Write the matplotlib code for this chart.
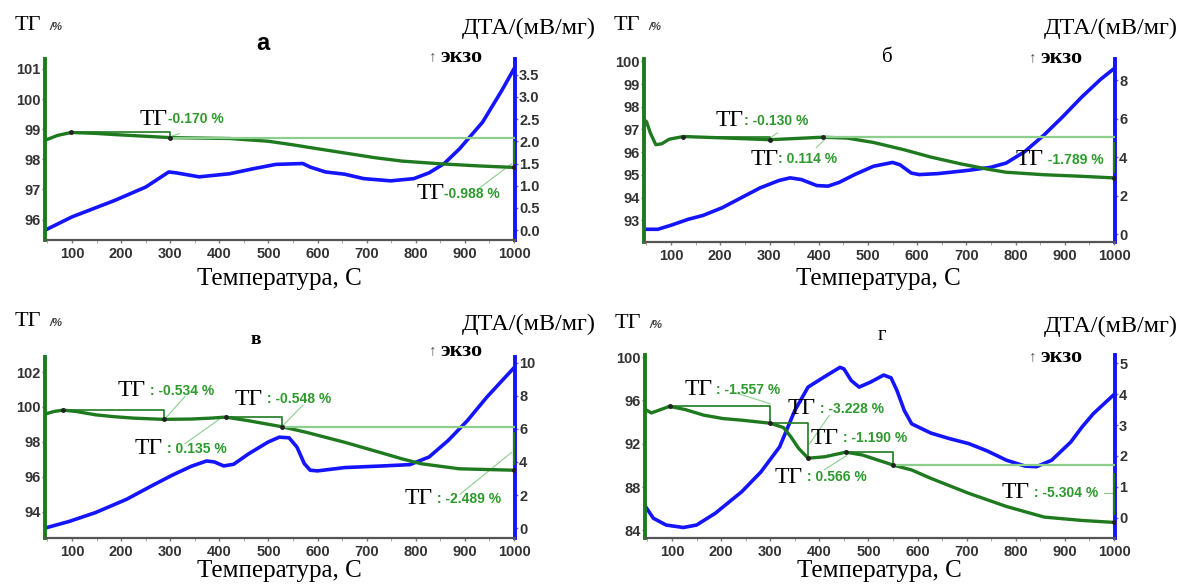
import numpy as np
import matplotlib
matplotlib.use('Agg')
from matplotlib import pyplot as plt

SERIF = ['Liberation Serif', 'DejaVu Serif']
SANS = ['Liberation Sans', 'DejaVu Sans']
TG_COLOR = '#1f7a1f'
DTA_COLOR = '#1414ff'
NOTE_COLOR = '#2e9a2e'
REF_COLOR = '#8ccf8c'

# ---------------- panel а ----------------
a_tg_t = [45, 70, 98, 148, 187, 300, 421, 499, 546, 600, 655, 718, 772, 850, 928, 1000]
a_tg = [98.63, 98.79, 98.89, 98.86, 98.82, 98.72, 98.69, 98.60, 98.49, 98.35, 98.21, 98.05, 97.94, 97.85, 97.78, 97.73]
a_dta_t = [45, 100, 187, 250, 297, 312, 359, 421, 468, 515, 570, 585, 616, 655, 694, 749, 796, 827, 858, 889, 936, 975, 1000]
a_dta = [0.0, 0.30, 0.67, 0.97, 1.31, 1.29, 1.20, 1.27, 1.38, 1.48, 1.50, 1.42, 1.31, 1.26, 1.16, 1.11, 1.16, 1.29, 1.50, 1.83, 2.43, 3.14, 3.63]
a_steps_t = [98, 300, 1000]
a_steps = [98.89, 98.72, 97.73]
a_notes = ['-0.170 %', '-0.988 %']

# ---------------- panel б ----------------
b_tg_t = [45, 50, 58, 69, 81, 96, 125, 204, 300, 350, 408, 458, 511, 573, 627, 688, 742, 780, 857, 934, 1000]
b_tg = [97.42, 97.35, 96.84, 96.33, 96.37, 96.57, 96.69, 96.63, 96.55, 96.60, 96.66, 96.62, 96.43, 96.11, 95.79, 95.49, 95.26, 95.12, 95.01, 94.94, 94.87]
b_dta_t = [45, 73, 100, 135, 165, 204, 242, 281, 319, 342, 365, 396, 419, 442, 473, 511, 550, 565, 588, 604, 642, 704, 750, 781, 819, 858, 896, 935, 973, 1000]
b_dta = [0.26, 0.26, 0.47, 0.78, 0.98, 1.38, 1.89, 2.41, 2.79, 2.93, 2.84, 2.53, 2.50, 2.70, 3.10, 3.53, 3.73, 3.61, 3.18, 3.10, 3.15, 3.32, 3.48, 3.70, 4.30, 5.16, 6.11, 7.14, 8.05, 8.60]
b_steps_t = [125, 300, 408, 1000]
b_steps = [96.69, 96.55, 96.66, 94.87]
b_notes = [': -0.130 %', ': 0.114 %', ' -1.789 %']

# ---------------- panel в ----------------
c_tg_t = [45, 63, 82, 109, 148, 187, 226, 287, 343, 382, 413, 460, 527, 577, 655, 733, 772, 811, 889, 1000]
c_tg = [99.59, 99.74, 99.82, 99.74, 99.55, 99.44, 99.36, 99.29, 99.31, 99.36, 99.42, 99.21, 98.87, 98.55, 97.98, 97.35, 97.03, 96.75, 96.46, 96.38]
c_dta_t = [45, 94, 148, 211, 265, 304, 343, 374, 390, 409, 429, 460, 499, 522, 542, 558, 573, 585, 600, 655, 733, 788, 827, 866, 905, 944, 975, 1000]
c_dta = [0.0, 0.4, 0.94, 1.74, 2.6, 3.2, 3.74, 4.06, 4.0, 3.76, 3.86, 4.5, 5.2, 5.5, 5.46, 4.9, 3.9, 3.5, 3.46, 3.66, 3.76, 3.84, 4.3, 5.3, 6.5, 7.9, 8.9, 9.7]
c_steps_t = [82, 287, 413, 527, 1000]
c_steps = [99.82, 99.29, 99.42, 98.87, 96.38]
c_notes = [' : -0.534 %', ' : 0.135 %', ' : -0.548 %', ' : -2.489 %']

# ---------------- panel г ----------------
d_tg_t = [46, 58, 69, 95, 127, 165, 204, 242, 300, 327, 342, 358, 377, 411, 454, 488, 550, 588, 627, 704, 781, 858, 935, 1000]
d_tg = [95.16, 94.85, 95.03, 95.46, 95.16, 94.64, 94.33, 94.18, 93.90, 93.5, 92.64, 91.57, 90.67, 90.8, 91.23, 90.96, 90.04, 89.58, 88.81, 87.43, 86.21, 85.23, 84.92, 84.74]
d_dta_t = [46, 62, 88, 123, 150, 188, 242, 281, 319, 350, 377, 411, 442, 450, 465, 481, 504, 531, 546, 558, 573, 588, 627, 665, 704, 742, 781, 819, 842, 873, 912, 935, 958, 1000]
d_dta = [0.36, -0.02, -0.24, -0.32, -0.24, 0.14, 0.84, 1.48, 2.29, 3.47, 4.23, 4.57, 4.87, 4.82, 4.44, 4.23, 4.39, 4.62, 4.53, 4.12, 3.47, 3.04, 2.74, 2.56, 2.4, 2.16, 1.86, 1.67, 1.65, 1.86, 2.45, 2.94, 3.37, 3.99]
d_steps_t = [95, 300, 377, 454, 550, 1000]
d_steps = [95.46, 93.90, 90.67, 91.23, 90.04, 84.74]
d_notes = [' : -1.557 %', ' : -3.228 %', ' : 0.566 %', ' : -1.190 %', ' : -5.304 %']

W, H = 1182, 584
fig = plt.figure(figsize=(W / 100, H / 100), dpi=100)


def px_axes(x0, y0, x1, y1):
    return fig.add_axes([x0 / W, 1 - y1 / H, (x1 - x0) / W, (y1 - y0) / H])


def make_panel(box, tg_t, tg, dta_t, dta, ylim, yticks, y2lim, y2ticks, y2fmt):
    ax = px_axes(*box)
    ax2 = ax.twinx()
    ax2.plot(dta_t, dta, color=DTA_COLOR, lw=2.6, solid_joinstyle='round', zorder=2)
    ax.plot(tg_t, tg, color=TG_COLOR, lw=2.4, solid_joinstyle='round', zorder=3)
    ax.set_zorder(ax2.get_zorder() + 1)
    ax.patch.set_visible(False)

    ax.set_xlim(45, 1002)
    ax.set_ylim(*ylim)
    ax2.set_ylim(*y2lim)
    ax.set_xticks(range(100, 1001, 100))
    ax.set_xticks(range(50, 1001, 50), minor=True)
    ax.set_yticks(yticks)
    ax2.set_yticks(y2ticks)
    ax2.set_yticklabels([y2fmt.format(v) for v in y2ticks])

    for a in (ax, ax2):
        a.spines['top'].set_visible(False)
        a.tick_params(labelsize=10.5, labelcolor='#333333', colors='#777777', length=2, width=1)
        for lab in a.get_xticklabels() + a.get_yticklabels():
            lab.set_fontweight('bold')
            lab.set_family(SANS)
    ax.tick_params(axis='x', which='minor', length=2, color='#999999')
    ax.tick_params(axis='x', pad=3)
    ax.tick_params(axis='y', pad=1)
    ax2.tick_params(axis='y', pad=1)
    ax.spines['left'].set_color(TG_COLOR)
    ax.spines['left'].set_linewidth(2.8)
    ax.spines['right'].set_visible(False)
    ax.spines['bottom'].set_color('#555555')
    ax.spines['bottom'].set_linewidth(1.6)
    ax2.spines['left'].set_visible(False)
    ax2.spines['bottom'].set_visible(False)
    ax2.spines['right'].set_color(DTA_COLOR)
    ax2.spines['right'].set_linewidth(2.8)
    return ax, ax2


def draw_steps(ax, st, sv):
    # steps between the marked points, the last one is a reference line + vertical drop
    n = len(st)
    for i in range(n - 2):
        if sv[i + 1] < sv[i]:
            ax.plot([st[i], st[i + 1], st[i + 1]], [sv[i], sv[i], sv[i + 1]], color=TG_COLOR, lw=1.2, zorder=4)
    ax.plot([st[-2], st[-1]], [sv[-2], sv[-2]], color=REF_COLOR, lw=1.6, zorder=4)
    span = sv[-2] - sv[-1]
    ax.plot([st[-1], st[-1]], [sv[-2] - 0.15 * span, sv[-1] + 0.15 * span], color=TG_COLOR, lw=1.6, zorder=4)
    ax.plot(st, sv, 'o', color='#222222', ms=2.5, zorder=5)


def note(ax, x, y, txt):
    ax.text(x, y, 'ТГ', family=SERIF, fontsize=17, color='black', ha='right', va='center', zorder=6)
    ax.text(x, y, txt, family=SANS, fontsize=10, fontweight='bold', color=NOTE_COLOR, ha='left', va='center', zorder=6)


def headers(x0, y0, x1, dta_right, ekzo_y, temp_y, letter, letter_kw):
    fig.text((x0 - 30) / W, 1 - y0 / H, 'ТГ', family=SERIF, fontsize=16, ha='left', va='center')
    fig.text((x0 + 4) / W, 1 - (y0 + 1) / H, '/%', family=SANS, fontsize=8, style='italic',
             fontweight='bold', color='#444444', ha='left', va='center')
    fig.text(dta_right / W, 1 - (y0 + 2) / H, 'ДТА/(мВ/мг)', family=SERIF, fontsize=17.5, ha='right', va='center')
    fig.text((x1 - 86) / W, 1 - ekzo_y / H, '↑', family=SERIF, fontsize=11, color='#555555', ha='left', va='center')
    fig.text((x1 - 75) / W, 1 - ekzo_y / H, 'экзо', family=SERIF, fontsize=16, fontweight='bold',
             ha='left', va='center')
    fig.text(((x0 + x1) / 2 - 1) / W, 1 - temp_y / H, 'Температура, С', family=SERIF, fontsize=18,
             ha='center', va='center')
    fig.text(letter_kw.pop('x') / W, 1 - letter_kw.pop('y') / H, letter, ha='center', va='center', **letter_kw)


# ---- а ----
ax, ax2 = make_panel((45, 59, 515, 240), a_tg_t, a_tg, a_dta_t, a_dta, (95.32, 101.33), range(96, 102),
                     (-0.22, 3.85), [0.0, 0.5, 1.0, 1.5, 2.0, 2.5, 3.0, 3.5], '{:.1f}')
draw_steps(ax, a_steps_t, a_steps)
note(ax, 295, 99.33, a_notes[0])
note(ax, 858, 96.85, a_notes[1])
ax.plot([305, 318], [98.78, 98.85], color=REF_COLOR, lw=0.8)
ax.plot([930, 995], [97.05, 97.85], color=REF_COLOR, lw=0.8)
headers(45, 26, 515, 596, 57, 279, 'а', dict(x=263, y=43, family=SANS, fontsize=17, fontweight='bold'))

# ---- б ----
ax, ax2 = make_panel((644, 59, 1115, 242), b_tg_t, b_tg, b_dta_t, b_dta, (92.05, 100.1), range(93, 101),
                     (-0.4, 9.1), [0, 2, 4, 6, 8], '{:d}')
draw_steps(ax, b_steps_t, b_steps)
note(ax, 248, 97.38, b_notes[0])
note(ax, 318, 95.68, b_notes[1])
note(ax, 858, 95.66, b_notes[2])
ax.plot([300, 316], [96.6, 96.85], color=REF_COLOR, lw=0.8)
ax.plot([395, 412], [96.2, 96.55], color=REF_COLOR, lw=0.8)
headers(644, 26, 1115, 1178, 58, 279, 'б', dict(x=887, y=58, family=SERIF, fontsize=15))

# ---- в ----
ax, ax2 = make_panel((45, 357, 515, 538), c_tg_t, c_tg, c_dta_t, c_dta, (92.5, 102.86), range(94, 103, 2),
                     (-0.6, 10.35), [0, 2, 4, 6, 8, 10], '{:d}')
draw_steps(ax, c_steps_t, c_steps)
note(ax, 250, 100.92, c_notes[0])
note(ax, 285, 97.62, c_notes[1])
note(ax, 488, 100.45, c_notes[2])
note(ax, 835, 94.75, c_notes[3])
ax.plot([290, 330], [99.35, 100.6], color=REF_COLOR, lw=0.8)
ax.plot([330, 400], [97.9, 99.3], color=REF_COLOR, lw=0.8)
ax.plot([530, 570], [98.95, 100.1], color=REF_COLOR, lw=0.8)
ax.plot([890, 995], [95.0, 97.4], color=REF_COLOR, lw=0.8)
headers(45, 322, 515, 596, 351, 571, 'в', dict(x=256, y=339, family=SERIF, fontsize=14, fontweight='bold'))

# ---- г ----
ax, ax2 = make_panel((645, 355, 1115, 538), d_tg_t, d_tg, d_dta_t, d_dta, (83.3, 100.2), range(84, 101, 4),
                     (-0.66, 5.27), [0, 1, 2, 3, 4, 5], '{:d}')
draw_steps(ax, d_steps_t, d_steps)
note(ax, 182, 97.0, d_notes[0])
note(ax, 393, 95.25, d_notes[1])
note(ax, 367, 88.9, d_notes[2])
note(ax, 440, 92.5, d_notes[3])
note(ax, 828, 87.5, d_notes[4])
ax.plot([230, 300], [96.7, 95.7], color=REF_COLOR, lw=0.8)
ax.plot([380, 420], [92.0, 94.6], color=REF_COLOR, lw=0.8)
ax.plot([410, 455], [89.6, 90.9], color=REF_COLOR, lw=0.8)
ax.plot([980, 1000], [87.5, 87.5], color=REF_COLOR, lw=0.8)
headers(645, 324, 1115, 1178, 357, 571, 'г', dict(x=882, y=335, family=SERIF, fontsize=15))

fig.savefig('out.png', dpi=100)
